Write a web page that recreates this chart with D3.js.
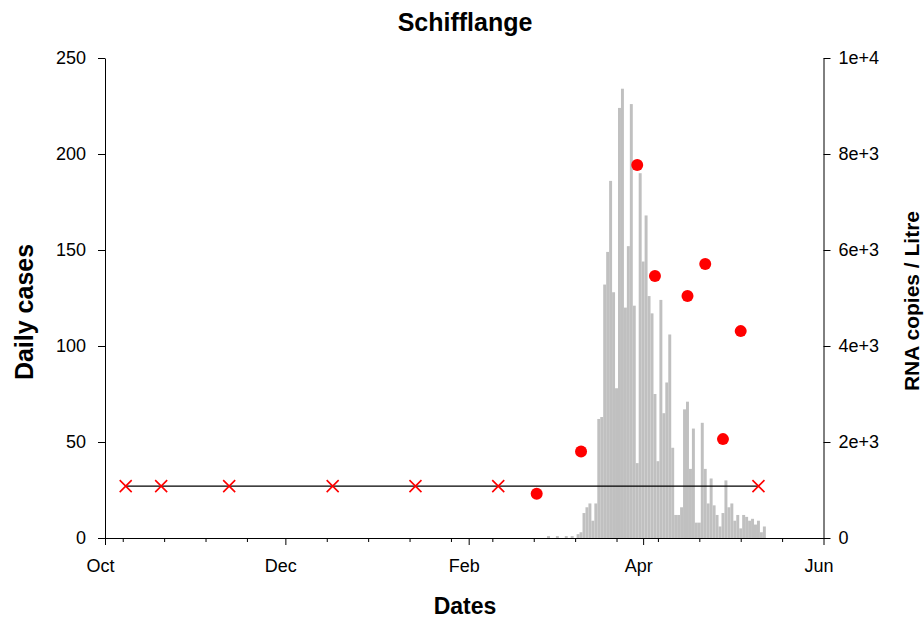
<!DOCTYPE html>
<html><head><meta charset="utf-8">
<script src="https://cdn.jsdelivr.net/npm/d3@7"></script>
<style>
body{margin:0;background:#fff}
svg{display:block}
text{font-family:Arial,"Liberation Sans",sans-serif;fill:#000}
</style>
</head><body>
<svg id="chart" width="924" height="619"></svg>
<script>
const chartTitle = "Schifflange";
const xTitle = "Dates";
const yLeftTitle = "Daily cases";
const yRightTitle = "RNA copies / Litre";

// daily cases, consecutive days starting at caseStart
const caseStart = "2021-02-28";
const dailyCases = [
  1,0,0,1,0,0,1,0,1,0,
  2,3,13,16,18,9,18,62,63,132,
  149,186,128,78,224,234,120,152,226,121,
  39,190,144,168,126,117,75,40,124,65,
  81,106,47,12,12,16,67,71,36,57,
  8,8,60,36,18,31,17,12,6,13,
  30,16,18,9,12,5,12,11,9,10,
  7,9,3,6
];

// RNA measurements (right axis)
const rnaDates = ["2021-02-24","2021-03-11","2021-03-30","2021-04-05","2021-04-16","2021-04-22","2021-04-28","2021-05-04"];
const rnaValues = [920,1800,7770,5460,5040,5710,2060,4310];

// below quantification limit (right axis)
const loqDates = ["2020-10-08","2020-10-20","2020-11-12","2020-12-17","2021-01-14","2021-02-11","2021-05-10"];
const loqValues = [1080,1080,1080,1080,1080,1080,1080];

const xDomain = ["2020-10-01","2021-06-01"];
const xMajorTicks = ["2020-10-01","2020-12-01","2021-02-01","2021-04-01","2021-06-01"];
const xMajorLabels = ["Oct","Dec","Feb","Apr","Jun"];
const xMinorTicks = ["2020-10-07","2020-10-21","2020-11-04","2020-11-18","2020-12-15","2020-12-29","2021-01-12","2021-01-26","2021-02-09","2021-02-23","2021-03-09","2021-03-23","2021-04-06","2021-04-20","2021-05-04","2021-05-18"];
const leftTicks = [0,50,100,150,200,250];
const rightTicks = [0,2000,4000,6000,8000,10000];
const rightTickLabels = ["0","2e+3","4e+3","6e+3","8e+3","1e+4"];

const parse = d3.utcParse("%Y-%m-%d");
const svg = d3.select("#chart");
const M = {left:105, right:823.5, top:58, bottom:538};

const x = d3.scaleUtc().domain(xDomain.map(parse)).range([M.left, M.right]);
const yL = d3.scaleLinear().domain([0,250]).range([M.bottom, M.top]);
const yR = d3.scaleLinear().domain([0,10000]).range([M.bottom, M.top]);

const start = parse(caseStart);
const cases = dailyCases.map((v,i)=>({date:d3.utcDay.offset(start,i), v}));
const bw = x(d3.utcDay.offset(start,1)) - x(start);

// bars
svg.append("g").selectAll("rect").data(cases).join("rect")
  .attr("x", d=>x(d.date)-bw/2)
  .attr("width", bw)
  .attr("y", d=>yL(d.v))
  .attr("height", d=>yL(0)-yL(d.v))
  .attr("fill", "#c0c0c0");

// LOQ line + crosses
const loq = loqDates.map((d,i)=>({date:parse(d), v:loqValues[i]}));
svg.append("path").datum(loq)
  .attr("d", d3.line().x(d=>x(d.date)).y(d=>yR(d.v)))
  .attr("fill","none").attr("stroke","#000").attr("stroke-width",1.2);
const cs = 6;
svg.append("g").selectAll("path").data(loq).join("path")
  .attr("d", d=>{const cx=x(d.date), cy=yR(d.v); return `M${cx-cs},${cy-cs}L${cx+cs},${cy+cs}M${cx-cs},${cy+cs}L${cx+cs},${cy-cs}`;})
  .attr("stroke","#ff0000").attr("stroke-width",1.6).attr("fill","none");

// RNA dots
const rna = rnaDates.map((d,i)=>({date:parse(d), v:rnaValues[i]}));
svg.append("g").selectAll("circle").data(rna).join("circle")
  .attr("cx", d=>x(d.date)).attr("cy", d=>yR(d.v)).attr("r", 6)
  .attr("fill","#ff0000");

// axes
const axisFont = "18px";
const gx = svg.append("g").attr("transform",`translate(0,${M.bottom})`)
  .call(d3.axisBottom(x).tickValues(xMajorTicks.map(parse)).tickSize(7).tickSizeOuter(0)
    .tickFormat((d,i)=>xMajorLabels[i]).tickPadding(14));
gx.selectAll(".tick text").attr("dx", -5);
const gxm = svg.append("g").attr("transform",`translate(0,${M.bottom})`)
  .call(d3.axisBottom(x).tickValues(xMinorTicks.map(parse)).tickSize(4).tickFormat(""));
gxm.select(".domain").remove();

const gl = svg.append("g").attr("transform",`translate(${M.left},0)`)
  .call(d3.axisLeft(yL).tickValues(leftTicks).tickSize(7).tickSizeOuter(0).tickPadding(12));
const gr = svg.append("g").attr("transform",`translate(${M.right},0)`)
  .call(d3.axisRight(yR).tickValues(rightTicks).tickSize(7).tickSizeOuter(0).tickPadding(8)
    .tickFormat((d,i)=>rightTickLabels[i]));

svg.selectAll(".tick text").attr("font-size",axisFont).attr("font-family","Arial, 'Liberation Sans', sans-serif").attr("fill","#000");
svg.selectAll(".domain, .tick line").attr("stroke","#000");

// titles
svg.append("text").attr("x",465).attr("y",31).attr("text-anchor","middle")
  .attr("font-size","25px").attr("font-weight","bold").text(chartTitle);
svg.append("text").attr("x",465).attr("y",614).attr("text-anchor","middle")
  .attr("font-size","23px").attr("font-weight","bold").text(xTitle);
svg.append("text").attr("transform","translate(33,312) rotate(-90)").attr("text-anchor","middle")
  .attr("font-size","25px").attr("font-weight","bold").text(yLeftTitle);
svg.append("text").attr("transform","translate(919,301) rotate(-90)").attr("text-anchor","middle")
  .attr("font-size","21px").attr("font-weight","bold").text(yRightTitle);
</script>
</body></html>
